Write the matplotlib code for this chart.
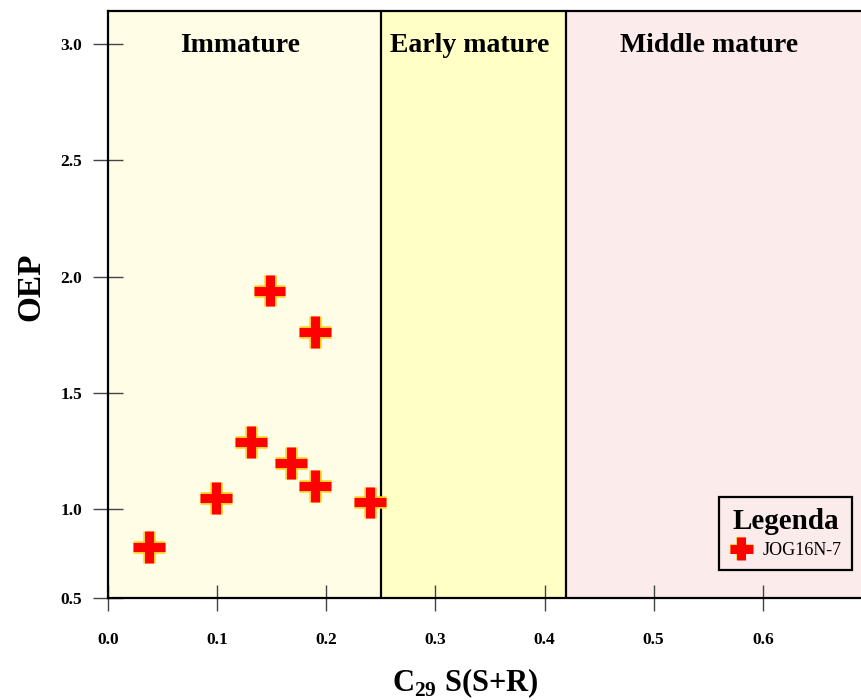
import matplotlib
matplotlib.use("Agg")
import matplotlib.pyplot as plt
import matplotlib.patheffects as pe
from matplotlib.ticker import FixedLocator

# C29 S/(S+R) vs OEP, sample JOG16N-7
c29_ssr = [0.038, 0.099, 0.131, 0.148, 0.168, 0.190, 0.190, 0.240]
oep = [0.84, 1.05, 1.29, 1.94, 1.20, 1.76, 1.10, 1.03]
sample = "JOG16N-7"

# maturity zones (x limits) and labels
zone_names = ["Immature", "Early mature", "Middle mature"]
zone_edges = [0.0, 0.25, 0.42, 0.69]
zone_colors = ["#FFFDE6", "#FFFFC6", "#FCEBEB"]

xticks = [0.0, 0.1, 0.2, 0.3, 0.4, 0.5, 0.6]
yticks = [0.62, 1.0, 1.5, 2.0, 2.5, 3.0]
ytick_labels = ["0.5", "1.0", "1.5", "2.0", "2.5", "3.0"]

plt.rcParams["font.family"] = ["Liberation Serif", "DejaVu Serif"]
plt.rcParams["mathtext.fontset"] = "custom"
plt.rcParams["mathtext.rm"] = "Liberation Serif"
plt.rcParams["mathtext.bf"] = "Liberation Serif:bold"

fig = plt.figure(figsize=(8.62, 7.0), dpi=100)
ax = fig.add_axes([108 / 862, 1 - 598 / 700, 753 / 862, 587 / 700])
ax.set_xlim(zone_edges[0], zone_edges[-1])
ax.set_ylim(0.62, 3.14)

for i, name in enumerate(zone_names):
    x0, x1 = zone_edges[i], zone_edges[i + 1]
    ax.axvspan(x0, x1, color=zone_colors[i], zorder=0, lw=0)
    if i > 0:
        ax.axvline(x0, color="black", lw=1.6, zorder=1)
    ax.text((x0 + x1) / 2 - 0.004, 2.99, name, ha="center", va="center",
            fontsize=20, fontweight="bold", zorder=3)

outline = [pe.Stroke(linewidth=9, foreground="#FFD21A"), pe.Normal()]
pts, = ax.plot(c29_ssr, oep, ls="none", marker="+", ms=23, mew=6.5, color="red",
               label=sample, zorder=4, clip_on=False)
pts.set_path_effects(outline)

ax.xaxis.set_major_locator(FixedLocator(xticks))
ax.set_xticklabels([f"{v:.1f}" for v in xticks])
ax.yaxis.set_major_locator(FixedLocator(yticks))
ax.set_yticklabels(ytick_labels)
ax.tick_params(axis="x", direction="inout", length=19, width=1, color="#444444",
               pad=15, labelsize=12.5)
ax.tick_params(axis="y", direction="inout", length=21, width=1, color="#444444",
               pad=8, labelsize=12.5)
for lab in ax.get_xticklabels() + ax.get_yticklabels():
    lab.set_fontweight("bold")

for s in ax.spines.values():
    s.set_linewidth(1.6)
ax.spines["right"].set_visible(False)

ax.set_ylabel("OEP", fontsize=24, fontweight="bold")
ax.yaxis.set_label_coords(-0.082, 0.53)
ax.set_xlabel(r"C$_{\mathbf{29}}$ S(S+R)", fontsize=22, fontweight="bold")
ax.xaxis.set_label_coords(0.475, -0.117)

leg = ax.legend(loc="lower right", bbox_to_anchor=(0.988, 0.048), title="Legenda",
                title_fontproperties={"size": 21, "weight": "bold"}, fontsize=13,
                fancybox=False, framealpha=1, edgecolor="black", facecolor="#FCEBEB",
                markerscale=0.7, handlelength=1.3, handletextpad=0.5,
                borderpad=0.6, labelspacing=0.4, borderaxespad=0)
leg.get_frame().set_linewidth(1.6)
for h in leg.legend_handles:
    h.set_path_effects([pe.Stroke(linewidth=7, foreground="#FFD21A"), pe.Normal()])

fig.savefig("out.png", dpi=100)
